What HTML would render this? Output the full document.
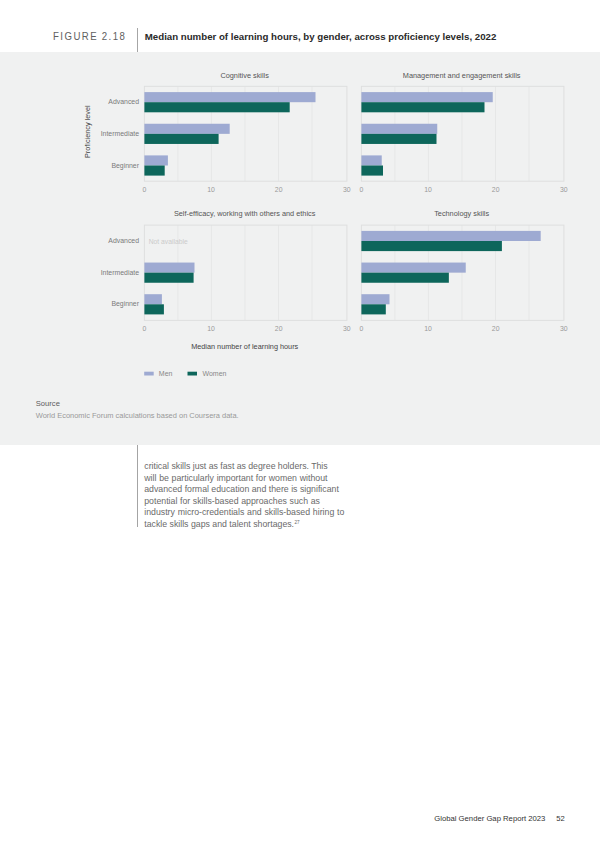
<!DOCTYPE html>
<html><head><meta charset="utf-8">
<style>
html,body{margin:0;padding:0;background:#fff;}
body{width:600px;height:848px;position:relative;overflow:hidden;font-family:"Liberation Sans",sans-serif;}
.abs{position:absolute;white-space:nowrap;}
svg text{font-family:"Liberation Sans",sans-serif;}
.ct{font-size:7.33px;fill:#555;}
.tk{font-size:6.9px;fill:#9a9a9a;}
.lb{font-size:6.9px;fill:#7a7a7a;}
</style></head><body>
<div class="abs" style="left:53px;top:30.2px;font-size:10.7px;letter-spacing:1.62px;word-spacing:-0.5px;color:#606060;transform:scaleX(0.9);transform-origin:0 0;line-height:12px;">FIGURE 2.18</div>
<div class="abs" style="left:136.65px;top:27.7px;width:1px;height:24.2px;background:#a6a6a6;"></div>
<div class="abs" style="left:144.8px;top:30.7px;font-size:9.68px;font-weight:bold;color:#2a2a2a;line-height:12px;">Median number of learning hours, by gender, across proficiency levels, 2022</div>
<div class="abs" style="left:0;top:51.9px;width:600px;height:393.1px;background:#f0f1f1;"></div>
<svg class="abs" style="left:0;top:0" width="600" height="848" viewBox="0 0 600 848">
<line x1="177.92" y1="86.3" x2="177.92" y2="181.2" stroke="#e6e7e7" stroke-width="1"/>
<line x1="211.44" y1="86.3" x2="211.44" y2="181.2" stroke="#e6e7e7" stroke-width="1"/>
<line x1="244.96" y1="86.3" x2="244.96" y2="181.2" stroke="#e6e7e7" stroke-width="1"/>
<line x1="278.48" y1="86.3" x2="278.48" y2="181.2" stroke="#e6e7e7" stroke-width="1"/>
<line x1="312.00" y1="86.3" x2="312.00" y2="181.2" stroke="#e6e7e7" stroke-width="1"/>
<rect x="144.4" y="86.3" width="202.5" height="94.9" fill="none" stroke="#dedfdf" stroke-width="1"/>
<rect x="144.4" y="92.10" width="171.10" height="10.1" fill="#9eaad2"/>
<rect x="144.4" y="102.20" width="145.30" height="10.1" fill="#0d665b"/>
<rect x="144.4" y="123.75" width="85.30" height="10.1" fill="#9eaad2"/>
<rect x="144.4" y="133.85" width="74.20" height="10.1" fill="#0d665b"/>
<rect x="144.4" y="155.40" width="23.50" height="10.1" fill="#9eaad2"/>
<rect x="144.4" y="165.50" width="20.30" height="10.1" fill="#0d665b"/>
<text x="244.65" y="77.50" text-anchor="middle" class="ct">Cognitive skills</text>
<text x="144.40" y="192.20" text-anchor="middle" class="tk">0</text>
<text x="211.00" y="192.20" text-anchor="middle" class="tk">10</text>
<text x="278.70" y="192.20" text-anchor="middle" class="tk">20</text>
<text x="346.80" y="192.20" text-anchor="middle" class="tk">30</text>
<text x="139" y="104.20" text-anchor="end" class="lb">Advanced</text>
<text x="139" y="135.85" text-anchor="end" class="lb">Intermediate</text>
<text x="139" y="167.50" text-anchor="end" class="lb">Beginner</text>
<line x1="394.92" y1="86.3" x2="394.92" y2="181.2" stroke="#e6e7e7" stroke-width="1"/>
<line x1="428.44" y1="86.3" x2="428.44" y2="181.2" stroke="#e6e7e7" stroke-width="1"/>
<line x1="461.96" y1="86.3" x2="461.96" y2="181.2" stroke="#e6e7e7" stroke-width="1"/>
<line x1="495.48" y1="86.3" x2="495.48" y2="181.2" stroke="#e6e7e7" stroke-width="1"/>
<line x1="529.00" y1="86.3" x2="529.00" y2="181.2" stroke="#e6e7e7" stroke-width="1"/>
<rect x="361.4" y="86.3" width="202.5" height="94.9" fill="none" stroke="#dedfdf" stroke-width="1"/>
<rect x="361.4" y="92.10" width="131.35" height="10.1" fill="#9eaad2"/>
<rect x="361.4" y="102.20" width="123.10" height="10.1" fill="#0d665b"/>
<rect x="361.4" y="123.75" width="75.85" height="10.1" fill="#9eaad2"/>
<rect x="361.4" y="133.85" width="75.10" height="10.1" fill="#0d665b"/>
<rect x="361.4" y="155.40" width="20.35" height="10.1" fill="#9eaad2"/>
<rect x="361.4" y="165.50" width="21.60" height="10.1" fill="#0d665b"/>
<text x="461.65" y="77.50" text-anchor="middle" class="ct">Management and engagement skills</text>
<text x="361.40" y="192.20" text-anchor="middle" class="tk">0</text>
<text x="428.00" y="192.20" text-anchor="middle" class="tk">10</text>
<text x="495.70" y="192.20" text-anchor="middle" class="tk">20</text>
<text x="563.80" y="192.20" text-anchor="middle" class="tk">30</text>
<line x1="177.92" y1="225.1" x2="177.92" y2="320.4" stroke="#e6e7e7" stroke-width="1"/>
<line x1="211.44" y1="225.1" x2="211.44" y2="320.4" stroke="#e6e7e7" stroke-width="1"/>
<line x1="244.96" y1="225.1" x2="244.96" y2="320.4" stroke="#e6e7e7" stroke-width="1"/>
<line x1="278.48" y1="225.1" x2="278.48" y2="320.4" stroke="#e6e7e7" stroke-width="1"/>
<line x1="312.00" y1="225.1" x2="312.00" y2="320.4" stroke="#e6e7e7" stroke-width="1"/>
<rect x="144.4" y="225.1" width="202.5" height="95.3" fill="none" stroke="#dedfdf" stroke-width="1"/>
<rect x="144.4" y="262.55" width="50.10" height="10.1" fill="#9eaad2"/>
<rect x="144.4" y="272.65" width="49.20" height="10.1" fill="#0d665b"/>
<rect x="144.4" y="294.20" width="17.50" height="10.1" fill="#9eaad2"/>
<rect x="144.4" y="304.30" width="19.50" height="10.1" fill="#0d665b"/>
<text x="244.65" y="216.30" text-anchor="middle" class="ct">Self-efficacy, working with others and ethics</text>
<text x="144.40" y="331.00" text-anchor="middle" class="tk">0</text>
<text x="211.00" y="331.00" text-anchor="middle" class="tk">10</text>
<text x="278.70" y="331.00" text-anchor="middle" class="tk">20</text>
<text x="346.80" y="331.00" text-anchor="middle" class="tk">30</text>
<text x="139" y="243.00" text-anchor="end" class="lb">Advanced</text>
<text x="139" y="274.65" text-anchor="end" class="lb">Intermediate</text>
<text x="139" y="306.30" text-anchor="end" class="lb">Beginner</text>
<line x1="394.92" y1="225.1" x2="394.92" y2="320.4" stroke="#e6e7e7" stroke-width="1"/>
<line x1="428.44" y1="225.1" x2="428.44" y2="320.4" stroke="#e6e7e7" stroke-width="1"/>
<line x1="461.96" y1="225.1" x2="461.96" y2="320.4" stroke="#e6e7e7" stroke-width="1"/>
<line x1="495.48" y1="225.1" x2="495.48" y2="320.4" stroke="#e6e7e7" stroke-width="1"/>
<line x1="529.00" y1="225.1" x2="529.00" y2="320.4" stroke="#e6e7e7" stroke-width="1"/>
<rect x="361.4" y="225.1" width="202.5" height="95.3" fill="none" stroke="#dedfdf" stroke-width="1"/>
<rect x="361.4" y="230.90" width="179.30" height="10.1" fill="#9eaad2"/>
<rect x="361.4" y="241.00" width="140.50" height="10.1" fill="#0d665b"/>
<rect x="361.4" y="262.55" width="104.35" height="10.1" fill="#9eaad2"/>
<rect x="361.4" y="272.65" width="87.45" height="10.1" fill="#0d665b"/>
<rect x="361.4" y="294.20" width="28.10" height="10.1" fill="#9eaad2"/>
<rect x="361.4" y="304.30" width="24.40" height="10.1" fill="#0d665b"/>
<text x="461.65" y="216.30" text-anchor="middle" class="ct">Technology skills</text>
<text x="361.40" y="331.00" text-anchor="middle" class="tk">0</text>
<text x="428.00" y="331.00" text-anchor="middle" class="tk">10</text>
<text x="495.70" y="331.00" text-anchor="middle" class="tk">20</text>
<text x="563.80" y="331.00" text-anchor="middle" class="tk">30</text>
<text transform="translate(90.2,131.7) rotate(-90)" text-anchor="middle" style="font-size:7.3px;fill:#444;">Proficiency level</text>
<text x="148.7" y="243.8" style="font-size:6.75px;fill:#cbcbcb;">Not available</text>
<text x="244.7" y="348.8" text-anchor="middle" style="font-size:7.3px;fill:#444;">Median number of learning hours</text>
<rect x="144.2" y="371.7" width="9.5" height="3.8" fill="#9eaad2"/>
<text x="158.8" y="376" style="font-size:7px;fill:#888;">Men</text>
<rect x="187.5" y="371.7" width="9.5" height="3.8" fill="#0d665b"/>
<text x="202.5" y="376" style="font-size:7px;fill:#888;">Women</text>
<text x="35.8" y="405.5" style="font-size:7.6px;fill:#5c5c5c;">Source</text>
<text x="35.8" y="418.3" style="font-size:7.46px;fill:#999;">World Economic Forum calculations based on Coursera data.</text>
</svg>
<div class="abs" style="left:136.7px;top:445px;width:1px;height:81.8px;background:#a4a4a4;"></div>
<div class="abs" style="left:144.25px;top:461px;font-size:8.75px;line-height:11.5px;color:#6a6a6a;"><div style="word-spacing:-0.09px">critical skills just as fast as degree holders. This</div><div style="word-spacing:0.3px">will be particularly important for women without</div><div style="word-spacing:0.0px">advanced formal education and there is significant</div><div style="word-spacing:0.22px">potential for skills-based approaches such as</div><div style="word-spacing:0.33px">industry micro-credentials and skills-based hiring to</div><div style="word-spacing:0.0px">tackle skills gaps and talent shortages.<span style="font-size:4.6px;position:relative;top:-3px;left:0.5px;">27</span></div></div>
<div class="abs" style="left:434.25px;top:814.2px;font-size:7.7px;line-height:10px;color:#333;">Global Gender Gap Report 2023</div>
<div class="abs" style="left:556.25px;top:814.2px;font-size:7.6px;line-height:10px;color:#333;">52</div>
</body></html>
